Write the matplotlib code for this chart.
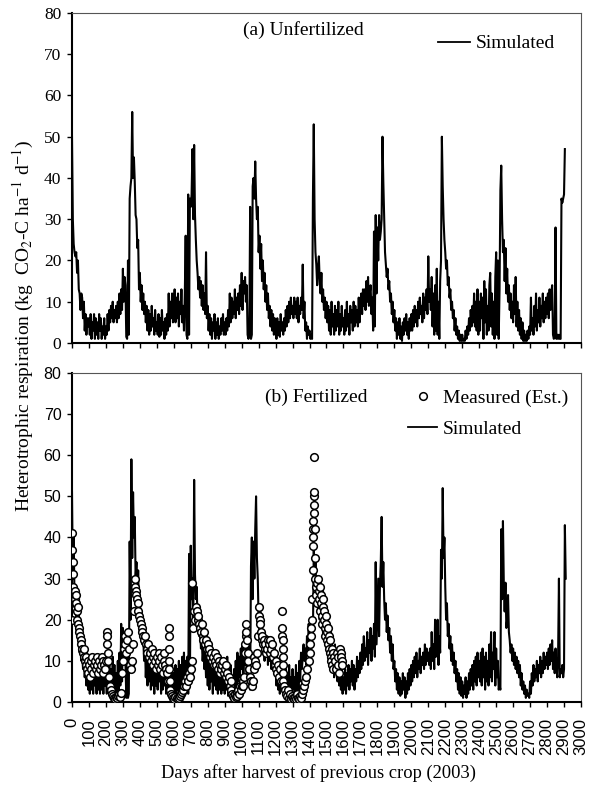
import numpy as np
import matplotlib
matplotlib.use('Agg')
import matplotlib.pyplot as plt
from matplotlib.lines import Line2D

# simulated Rh, unfertilized plot, one value every 5 days from day 0
sim_unfert = [
    50, 30, 24, 22, 21, 22, 17, 20, 13, 12, 8, 12, 11, 6, 10, 3, 7, 2, 6, 4,
    6, 2, 7, 1, 5, 3, 7, 1, 6, 2, 5, 1, 7, 3, 6, 1, 4, 2, 6, 1,
    4, 2, 7, 3, 8, 5, 9, 6, 10, 5, 8, 6, 9, 5, 10, 6, 12, 7, 13, 8,
    18, 10, 16, 14, 1.5, 1, 20, 2, 35, 38, 40, 56, 40, 45, 39, 31, 30, 23, 25, 13,
    17, 10, 14, 8, 12, 7, 10, 5, 9, 3, 8, 2, 7, 3, 9, 4, 6, 2, 8, 3,
    5, 2, 7, 1.5, 6, 2, 8, 3, 5, 1, 6, 2, 7, 3, 12, 4, 10, 6, 12, 5,
    8, 13, 5, 11, 6, 12, 4, 10, 7, 13, 5, 9, 3, 12, 26, 2, 1, 36, 2, 35,
    33, 36, 47, 30, 48, 31, 25, 20, 17, 13, 16, 11, 15, 9, 14, 8, 12, 7, 22, 6,
    9, 3, 7, 2, 6, 1, 5, 3, 7, 1, 5, 2, 6, 1, 4, 2, 6, 3, 7, 2,
    5, 2, 6, 3, 8, 4, 12, 5, 11, 6, 10, 7, 13, 6, 11, 8, 12, 7, 14, 9,
    17, 8, 15, 12, 16, 10, 14, 2, 1, 2, 33, 1, 2, 38, 40, 35, 44, 35, 30, 33,
    22, 26, 18, 24, 15, 20, 13, 17, 10, 14, 8, 12, 6, 9, 4, 8, 3, 7, 2, 6,
    4, 1, 6, 2, 5, 1.5, 7, 3, 5, 2, 6, 3, 8, 4, 9, 5, 10, 6, 11, 7,
    9, 6, 11, 7, 10, 6, 11, 5, 9, 7, 11, 8, 19, 6, 10, 3, 5, 1, 4, 2,
    3, 1, 2, 1, 35, 53, 30, 22, 19, 14, 18, 21, 15, 12, 17, 10, 13, 8, 11, 6,
    10, 5, 9, 3, 8, 2, 10, 4, 7, 2, 9, 3, 8, 4, 10, 2, 7, 3, 9, 4,
    6, 2, 8, 3, 10, 4, 7, 2, 9, 5, 8, 3, 10, 4, 9, 5, 8, 4, 11, 5,
    9, 12, 7, 13, 9, 13, 8, 15, 10, 16, 9, 12, 14, 7, 11, 3, 27, 4, 31, 12,
    28, 20, 31, 25, 27, 30, 50, 39, 30, 22, 19, 16, 18, 13, 15, 10, 12, 7, 10, 5,
    8, 3, 6, 1, 5, 2, 6, 1, 4, 0.5, 5, 2, 6, 3, 7, 2, 5, 1, 6, 3,
    7, 3, 8, 4, 9, 5, 8, 4, 10, 6, 11, 7, 9, 5, 12, 6, 11, 8, 13, 7,
    21, 10, 13, 8, 16, 4, 12, 2, 14, 3, 18, 2, 10, 1, 15, 20, 50, 38, 30, 25,
    22, 18, 20, 14, 16, 11, 13, 8, 10, 6, 8, 3, 6, 2, 4, 1, 3, 0.5, 2, 0.5,
    2, 0.5, 1, 0.5, 3, 1, 4, 2, 6, 3, 8, 4, 9, 5, 12, 4, 10, 3, 13, 2,
    10, 3, 12, 6, 11, 1, 15, 5, 13, 2, 9, 3, 14, 17, 4, 12, 2, 10, 1, 16,
    22, 2, 20, 1, 13, 37, 43, 30, 22, 25, 15, 23, 12, 18, 10, 14, 8, 12, 6, 10,
    5, 14, 7, 16, 4, 10, 3, 8, 2, 6, 1, 5, 0.5, 3, 0.5, 2, 0.5, 3, 1, 4,
    2, 11, 3, 6, 2, 9, 4, 12, 3, 8, 5, 11, 4, 9, 6, 12, 5, 10, 6, 11,
    7, 12, 6, 13, 8, 12, 14, 2, 1, 2, 28, 1, 2, 1, 2, 1, 1, 35, 34, 35,
    36, 47,
]

# simulated Rh, fertilized plot, same 5-day step
sim_fert = [
    51, 30, 40, 25, 27, 20, 22, 18, 21, 12, 16, 10, 13, 8, 11, 6, 10, 4, 9, 3,
    7, 2, 9, 3, 8, 2, 10, 4, 7, 2, 9, 3, 8, 2, 10, 3, 7, 2, 9, 4,
    8, 2, 10, 3, 9, 1.5, 8, 2, 11, 3, 9, 1.5, 7, 2, 10, 3, 12, 4, 19, 5,
    18, 9, 16, 10, 1, 14, 1, 2, 39, 20, 59, 35, 51, 40, 45, 30, 34, 25, 32, 22,
    26, 18, 22, 14, 16, 10, 14, 6, 12, 4, 13, 5, 11, 3, 12, 4, 10, 2, 11, 4,
    9, 3, 12, 5, 10, 2, 8, 3, 11, 4, 9, 2, 7, 3, 8, 2, 6, 3, 9, 2,
    7, 3, 9, 2, 8, 3, 10, 2, 9, 4, 11, 3, 12, 4, 10, 3, 11, 2, 36, 4,
    38, 25, 30, 20, 54, 31, 25, 28, 20, 22, 16, 18, 13, 15, 10, 13, 8, 12, 6, 11,
    4, 10, 3, 11, 5, 9, 2, 10, 4, 12, 3, 9, 2, 8, 3, 10, 2, 7, 3, 9,
    2, 8, 3, 11, 1.5, 7, 2, 9, 1, 6, 2, 8, 3, 10, 4, 12, 5, 11, 6, 13,
    8, 14, 6, 12, 9, 15, 7, 13, 10, 17, 3, 33, 40, 25, 39, 30, 42, 50, 35, 30,
    20, 17, 22, 14, 18, 12, 17, 10, 15, 11, 16, 9, 14, 10, 13, 8, 15, 9, 12, 7,
    10, 4, 9, 3, 8, 2, 7, 3, 9, 2, 6, 3, 8, 2, 7, 4, 9, 3, 6, 2,
    8, 3, 6, 1, 9, 2, 7, 3, 10, 5, 12, 8, 11, 14, 10, 13, 9, 16, 12, 19,
    14, 18, 11, 20, 16, 37, 28, 34, 25, 30, 22, 27, 20, 25, 18, 24, 16, 21, 15, 22,
    17, 14, 18, 11, 15, 9, 16, 8, 13, 6, 14, 7, 11, 5, 12, 4, 9, 3, 8, 2,
    6, 3, 8, 2, 7, 4, 9, 3, 8, 5, 10, 4, 9, 3, 8, 5, 11, 6, 10, 7,
    12, 8, 14, 9, 16, 10, 13, 11, 17, 9, 15, 12, 18, 10, 16, 13, 19, 11, 34, 14,
    22, 30, 16, 28, 34, 45, 28, 34, 25, 20, 24, 17, 21, 15, 18, 12, 16, 10, 14, 8,
    10, 5, 8, 3, 7, 2, 6, 1.5, 5, 2, 7, 3, 6, 1, 5, 2, 7, 3, 8, 4,
    9, 5, 10, 6, 11, 7, 12, 6, 10, 8, 13, 7, 11, 9, 12, 8, 14, 9, 13, 10,
    12, 9, 13, 8, 17, 10, 14, 8, 20, 11, 15, 20, 9, 16, 12, 37, 30, 52, 35, 40,
    28, 20, 24, 16, 19, 13, 16, 10, 14, 9, 12, 7, 10, 5, 8, 3, 7, 2, 6, 1.5,
    5, 1, 4, 2, 6, 1, 5, 2, 7, 3, 8, 4, 9, 3, 10, 5, 11, 4, 12, 6,
    10, 5, 12, 4, 13, 6, 11, 3, 12, 5, 10, 4, 14, 6, 17, 5, 12, 8, 17, 4,
    13, 6, 10, 3, 4, 3, 42, 25, 44, 29, 22, 29, 18, 20, 26, 17, 15, 12, 14, 10,
    13, 9, 12, 8, 11, 7, 10, 6, 9, 4, 7, 3, 5, 2, 4, 1, 3, 1.5, 2, 1,
    5, 2, 7, 4, 9, 5, 8, 6, 10, 5, 9, 7, 11, 6, 10, 7, 12, 8, 11, 9,
    12, 8, 13, 9, 14, 10, 15, 8, 12, 7, 13, 9, 6, 11, 30, 6, 8, 7, 9, 6,
    8, 43, 30,
]

# measured (estimated) Rh on the fertilized plot
meas_day = [
    0, 1, 2, 3, 4, 5, 6, 7, 9, 12, 15, 18, 20, 22, 25, 28, 30, 33, 36, 40,
    44, 48, 52, 56, 60, 64, 68, 72, 76, 80, 84, 88, 92, 96, 100, 105, 110, 115, 120, 125,
    130, 135, 140, 145, 150, 155, 160, 165, 170, 175, 180, 185, 190, 195, 200, 205, 207, 209, 211, 213,
    216, 222, 228, 234, 240, 246, 252, 258, 264, 270, 276, 282, 290, 296, 300, 305, 310, 315, 320, 325,
    330, 335, 340, 350, 355, 360, 365, 370, 373, 376, 380, 384, 388, 392, 396, 400, 405, 410, 415, 420,
    425, 430, 435, 440, 445, 450, 455, 460, 465, 470, 475, 480, 485, 490, 495, 500, 505, 510, 515, 520,
    525, 530, 535, 540, 545, 550, 555, 560, 565, 570, 571, 572, 573, 574, 576, 580, 586, 592, 598, 604,
    610, 616, 622, 628, 634, 640, 646, 652, 658, 664, 670, 676, 682, 688, 694, 700, 705, 710, 715, 720,
    725, 730, 735, 740, 745, 750, 755, 760, 765, 770, 775, 780, 785, 790, 795, 800, 805, 810, 815, 820,
    825, 830, 835, 840, 845, 850, 855, 860, 865, 870, 875, 880, 885, 890, 895, 900, 905, 910, 915, 920,
    925, 930, 935, 940, 945, 950, 955, 960, 965, 970, 975, 980, 985, 990, 995, 1000, 1005, 1010, 1015, 1020,
    1022, 1024, 1026, 1028, 1032, 1036, 1040, 1045, 1050, 1055, 1060, 1065, 1070, 1075, 1080, 1085, 1090, 1095, 1100, 1103,
    1106, 1110, 1114, 1118, 1122, 1126, 1130, 1135, 1140, 1145, 1150, 1155, 1160, 1165, 1170, 1175, 1180, 1185, 1190, 1195,
    1200, 1205, 1210, 1215, 1220, 1225, 1230, 1238, 1239, 1240, 1241, 1242, 1243, 1244, 1245, 1246, 1250, 1256, 1262, 1268,
    1274, 1280, 1286, 1292, 1298, 1304, 1310, 1316, 1322, 1328, 1334, 1340, 1346, 1352, 1358, 1364, 1370, 1376, 1382, 1388,
    1394, 1400, 1405, 1408, 1411, 1414, 1417, 1419, 1420, 1421, 1422, 1423, 1424, 1425, 1426, 1427, 1428, 1430, 1432, 1435,
    1438, 1441, 1444, 1447, 1450, 1453, 1456, 1459, 1462, 1465, 1468, 1471, 1474, 1477, 1480, 1483, 1486, 1489, 1492, 1495,
    1498, 1501, 1504, 1507, 1510, 1513, 1516, 1519, 1522, 1525, 1528, 1531, 1534, 1537, 1540, 1545, 1550, 1555, 1560, 1565,
    1570, 1575, 1580, 1583, 1586, 1589, 1592,
]
meas_val = [
    25, 20, 41, 37, 34, 31, 28, 26, 25, 26, 24, 27, 25, 26, 24, 22, 20, 23, 19, 18,
    17, 16, 15, 14, 13, 12, 11, 13, 10, 9, 11, 8, 10, 7, 9, 6, 10, 8, 11, 7,
    9, 10, 8, 11, 9, 7, 10, 8, 9, 11, 7, 10, 9, 8, 10, 17, 16, 14, 12, 10,
    6, 4, 3, 2, 1.5, 1, 0.8, 1.2, 1, 1.5, 2, 1.3, 2.2, 7, 10, 13, 14, 16, 12, 15,
    17, 13, 9, 8, 10, 14, 22, 28, 30, 27, 26, 25, 24, 22, 21, 20, 19, 18, 17, 16,
    15, 16, 14, 13, 12, 14, 11, 12, 10, 13, 9, 11, 12, 10, 8, 11, 9, 12, 10, 8,
    11, 9, 7, 10, 12, 9, 8, 7, 5, 18, 16, 13, 10, 8, 5, 3, 2, 1.5, 1, 0.8,
    1.2, 1, 0.7, 1, 1.5, 2, 2.5, 3, 4, 5, 4, 6, 5, 7, 6, 8, 10, 29, 18, 22,
    20, 23, 22, 20, 21, 19, 18, 17, 19, 16, 15, 17, 14, 15, 13, 14, 12, 13, 11, 12,
    10, 11, 9, 12, 10, 9, 11, 8, 10, 9, 7, 8, 9, 10, 7, 8, 6, 9, 7, 5,
    6, 4, 5, 3, 2, 1.5, 1, 2, 1.3, 2.5, 1.5, 3, 2, 4, 3, 4, 5, 4, 6, 12,
    14, 16, 17, 19, 15, 12, 10, 8, 6, 5, 4, 5, 8, 11, 10, 9, 12, 16, 23, 21,
    20, 19, 17, 15, 16, 14, 15, 13, 14, 12, 13, 15, 14, 12, 15, 13, 14, 11, 12, 9,
    10, 8, 7, 9, 6, 8, 5, 22, 18, 16, 15, 13, 11, 9, 7, 5, 4, 3, 2, 1.5,
    3, 1, 2, 0.8, 1.5, 1, 0.7, 1.2, 0.8, 2, 1, 0.8, 1.5, 1, 2, 3, 4, 5, 6, 8,
    10, 12, 14, 16, 18, 20, 25, 32, 38, 40, 42, 44, 46, 48, 50, 51, 59.5, 42, 35, 30,
    28, 26, 24, 29, 30, 27, 25, 22, 28, 26, 24, 21, 19, 23, 25, 22, 20, 18, 16, 21,
    19, 17, 15, 14, 18, 16, 13, 12, 15, 11, 10, 13, 9, 12, 8, 11, 10, 8, 12, 9,
    11, 7, 13, 12, 11, 10, 9,
]

x_ticks = np.arange(0, 3001, 100)
y_ticks = np.arange(0, 81, 10)

serif = ['Liberation Serif', 'DejaVu Serif']
sans = ['Liberation Sans', 'DejaVu Sans']
plt.rcParams['font.family'] = serif
plt.rcParams['mathtext.fontset'] = 'stix'

fig = plt.figure(figsize=(5.92, 7.89), dpi=100)
ax1 = fig.add_axes([0.1216, 0.5653, 0.8598, 0.4183])
ax2 = fig.add_axes([0.1216, 0.1103, 0.8598, 0.4170])

days_u = np.arange(len(sim_unfert)) * 5
days_f = np.arange(len(sim_fert)) * 5

ax1.plot(days_u, sim_unfert, color='black', lw=1.5)
ax2.plot(days_f, sim_fert, color='black', lw=1.5, zorder=2)
ax2.plot(meas_day, meas_val, 'o', ms=5.5, mfc='white', mec='black', mew=1.1, zorder=3)

for ax in (ax1, ax2):
    ax.set_xlim(0, 3000)
    ax.set_ylim(0, 80)
    ax.set_xticks(x_ticks)
    ax.set_yticks(y_ticks)
    ax.tick_params(direction='out', length=3.6, width=1.0, colors='black', pad=4)
    ax.spines['left'].set_linewidth(1.5)
    ax.spines['bottom'].set_linewidth(1.5)
    for s in ('top', 'right'):
        ax.spines[s].set_linewidth(0.8)
        ax.spines[s].set_color('#555555')

ax1.set_xticklabels([])
for lab in ax1.get_yticklabels():
    lab.set_fontfamily(serif)
    lab.set_fontsize(12.5)

ax2.set_xticklabels([str(t) for t in x_ticks], rotation=90, fontfamily=sans, fontsize=12)
ax2.tick_params(axis='x', pad=8)
for lab in ax2.get_yticklabels():
    lab.set_fontfamily(sans)
    lab.set_fontsize(11.5)

ax1.text(0.336, 0.948, '(a) Unfertilized', transform=ax1.transAxes, fontsize=14,
         ha='left', va='center')
ax2.text(0.379, 0.927, '(b) Fertilized', transform=ax2.transAxes, fontsize=14,
         ha='left', va='center')

sim_handle = Line2D([], [], color='black', lw=1.3)
meas_handle = Line2D([], [], ls='none', marker='o', ms=5.5, mfc='white', mec='black', mew=1.1)

ax1.legend([sim_handle], ['Simulated'], loc='upper left', bbox_to_anchor=(0.719, 0.934),
           frameon=False, fontsize=14, handlelength=1.65, handletextpad=0.3,
           borderpad=0, borderaxespad=0)
ax2.legend([meas_handle, sim_handle], ['Measured (Est.)', 'Simulated'], loc='upper left',
           bbox_to_anchor=(0.660, 0.950), frameon=False, fontsize=14, handlelength=1.5,
           handletextpad=0.3, labelspacing=0.66, borderpad=0, borderaxespad=0)

fig.text(0.040, 0.587, 'Heterotrophic respiration (kg  CO$_2$-C ha$^{-1}$ d$^{-1}$)',
         rotation=90, ha='center', va='center', fontsize=14)
fig.text(0.538, 0.020, 'Days after harvest of previous crop (2003)',
         ha='center', va='center', fontsize=13.3)

fig.savefig('out.png', dpi=100)
